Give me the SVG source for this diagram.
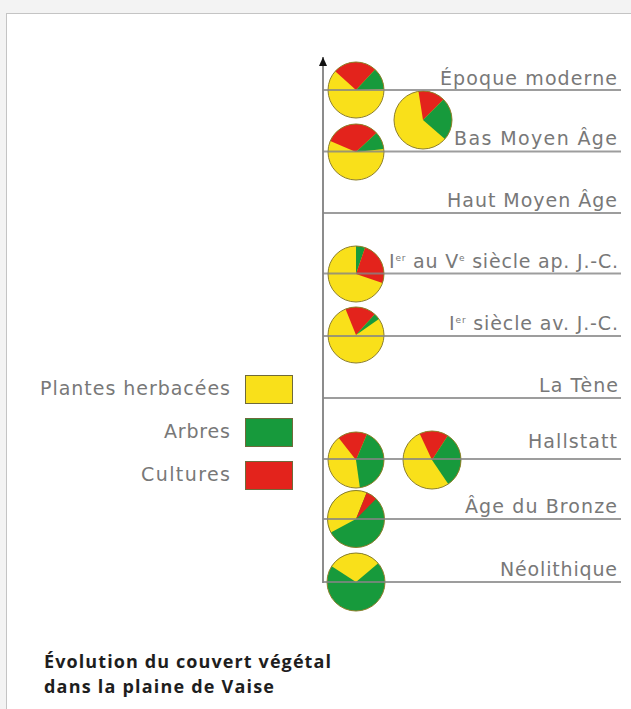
<svg xmlns="http://www.w3.org/2000/svg" width="631" height="709" viewBox="0 0 631 709">
<style>
.lbl{font-family:"DejaVu Sans","Liberation Sans",sans-serif;font-size:19px;font-weight:400;fill:#787878;text-anchor:end}
.sup{font-size:9px}
.title{font-family:"Open Sans","Liberation Sans",sans-serif;font-size:18px;font-weight:700;fill:#1e1e1e}
.yel{fill:#f9e01a}
.grn{fill:#179a3c}
.red{fill:#e3231c}
.rim{fill:none;stroke:#8d7f2c;stroke-width:1}
.hl{stroke:#858585;stroke-width:2;stroke-opacity:0.8}
.box{stroke:#6f6a3a;stroke-width:1}
</style>
<defs>
<marker id="arr" markerWidth="10" markerHeight="8" refX="9" refY="4" orient="auto" markerUnits="userSpaceOnUse">
<path d="M0,0 L9,4 L0,8 Z" fill="#111"/>
</marker>
</defs>
<rect x="0" y="0" width="631" height="709" fill="#f3f3f3"/>
<rect x="6.5" y="13.5" width="700" height="800" fill="#ffffff" stroke="#c4c4c4" stroke-width="1"/>

<!-- pies -->
<g id="pie-epoque-moderne">
<circle cx="356" cy="90" r="28" class="yel"/>
<path class="red" d="M356,90 L335.19,71.27 A28,28 0 0 1 375.10,69.52 Z"/>
<path class="grn" d="M356,90 L375.10,69.52 A28,28 0 0 1 383.98,89.02 Z"/>
<circle cx="356" cy="90" r="28" class="rim"/>
</g>
<g id="pie-bas-moyen-age-1">
<circle cx="356" cy="152" r="28" class="yel"/>
<path class="red" d="M356,152 L330.23,141.06 A28,28 0 0 1 376.48,132.90 Z"/>
<path class="grn" d="M356,152 L376.48,132.90 A28,28 0 0 1 383.85,149.07 Z"/>
<circle cx="356" cy="152" r="28" class="rim"/>
</g>
<g id="pie-bas-moyen-age-2">
<circle cx="423" cy="120" r="29" class="yel"/>
<path class="red" d="M423,120 L418.46,91.36 A29,29 0 0 1 443.51,99.49 Z"/>
<path class="grn" d="M423,120 L443.51,99.49 A29,29 0 0 1 444.89,139.03 Z"/>
<circle cx="423" cy="120" r="29" class="rim"/>
</g>
<g id="pie-1er-5e-siecle">
<circle cx="356" cy="274" r="28" class="yel"/>
<path class="grn" d="M356,274 L356,246 A28,28 0 0 1 365.12,247.53 Z"/>
<path class="red" d="M356,274 L365.12,247.53 A28,28 0 0 1 382.47,283.12 Z"/>
<circle cx="356" cy="274" r="28" class="rim"/>
</g>
<g id="pie-1er-siecle-av">
<circle cx="356" cy="335" r="28" class="yel"/>
<path class="red" d="M356,335 L345.51,309.04 A28,28 0 0 1 374.74,314.19 Z"/>
<path class="grn" d="M356,335 L374.74,314.19 A28,28 0 0 1 378.94,318.94 Z"/>
<circle cx="356" cy="335" r="28" class="rim"/>
</g>
<g id="pie-hallstatt-1">
<circle cx="356" cy="460" r="28" class="yel"/>
<path class="red" d="M356,460 L338.76,437.94 A28,28 0 0 1 366.94,434.23 Z"/>
<path class="grn" d="M356,460 L366.94,434.23 A28,28 0 0 1 359.90,487.73 Z"/>
<circle cx="356" cy="460" r="28" class="rim"/>
</g>
<g id="pie-hallstatt-2">
<circle cx="432" cy="460" r="29" class="yel"/>
<path class="red" d="M432,460 L419.74,433.72 A29,29 0 0 1 447.79,435.68 Z"/>
<path class="grn" d="M432,460 L447.79,435.68 A29,29 0 0 1 448.22,484.04 Z"/>
<circle cx="432" cy="460" r="29" class="rim"/>
</g>
<g id="pie-age-du-bronze">
<circle cx="356" cy="519" r="28.5" class="grn"/>
<path class="yel" d="M356,519 L330.84,532.38 A28.5,28.5 0 0 1 366.68,492.58 Z"/>
<path class="red" d="M356,519 L366.68,492.58 A28.5,28.5 0 0 1 376.15,498.85 Z"/>
<circle cx="356" cy="519" r="28.5" class="rim"/>
</g>
<g id="pie-neolithique">
<circle cx="356" cy="582" r="29" class="grn"/>
<path class="yel" d="M356,582 L331.68,566.21 A29,29 0 0 1 378.22,563.36 Z"/>
<circle cx="356" cy="582" r="29" class="rim"/>
</g>

<!-- connectors: axis and period lines -->
<g id="connectors">
<line x1="323" y1="583" x2="323" y2="57" stroke="#666" stroke-width="1.5" marker-end="url(#arr)"/>
<line class="hl" x1="323" y1="90" x2="621" y2="90"/>
<line class="hl" x1="323" y1="151.5" x2="621" y2="151.5"/>
<line class="hl" x1="323" y1="213" x2="621" y2="213"/>
<line class="hl" x1="323" y1="273.5" x2="621" y2="273.5"/>
<line class="hl" x1="323" y1="336" x2="621" y2="336"/>
<line class="hl" x1="323" y1="398" x2="621" y2="398"/>
<line class="hl" x1="323" y1="459" x2="621" y2="459" stroke="#aaaaaa"/>
<line class="hl" x1="323" y1="519" x2="621" y2="519" stroke="#444" stroke-width="1.5"/>
<line class="hl" x1="323" y1="582" x2="621" y2="582"/>
</g>

<!-- period labels -->
<g id="labels">
<text id="t-epoque" class="lbl" x="617" y="85" textLength="177">Époque moderne</text>
<text id="t-bma" class="lbl" x="617" y="145" textLength="163">Bas Moyen Âge</text>
<text id="t-hma" class="lbl" x="617" y="207" textLength="170">Haut Moyen Âge</text>
<text id="t-1-5" class="lbl" x="618" y="268" textLength="229">I<tspan class="sup" dy="-7">er</tspan><tspan dy="7"> au V</tspan><tspan class="sup" dy="-7">e</tspan><tspan dy="7"> siècle ap. J.-C.</tspan></text>
<text id="t-1av" class="lbl" x="618" y="330" textLength="169">I<tspan class="sup" dy="-7">er</tspan><tspan dy="7"> siècle av. J.-C.</tspan></text>
<text id="t-tene" class="lbl" x="618" y="392" textLength="79">La Tène</text>
<text id="t-hall" class="lbl" x="617" y="448" textLength="89">Hallstatt</text>
<text id="t-bronze" class="lbl" x="617" y="513" textLength="152">Âge du Bronze</text>
<text id="t-neo" class="lbl" x="617" y="576" textLength="117">Néolithique</text>
</g>

<!-- legend -->
<g id="legend-herbacees">
<text class="lbl" x="230" y="395" textLength="190">Plantes herbacées</text>
<rect class="yel box" x="245.5" y="375.5" width="47" height="28"/>
</g>
<g id="legend-arbres">
<text class="lbl" x="230" y="438" textLength="66">Arbres</text>
<rect class="grn box" x="245.5" y="418.5" width="47" height="28"/>
</g>
<g id="legend-cultures">
<text class="lbl" x="230" y="481" textLength="89">Cultures</text>
<rect class="red box" x="245.5" y="461.5" width="47" height="28"/>
</g>

<!-- title -->
<g id="title">
<text class="title" x="44" y="668" textLength="287">Évolution du couvert végétal</text>
<text class="title" x="44" y="693" textLength="230">dans la plaine de Vaise</text>
</g>
</svg>
